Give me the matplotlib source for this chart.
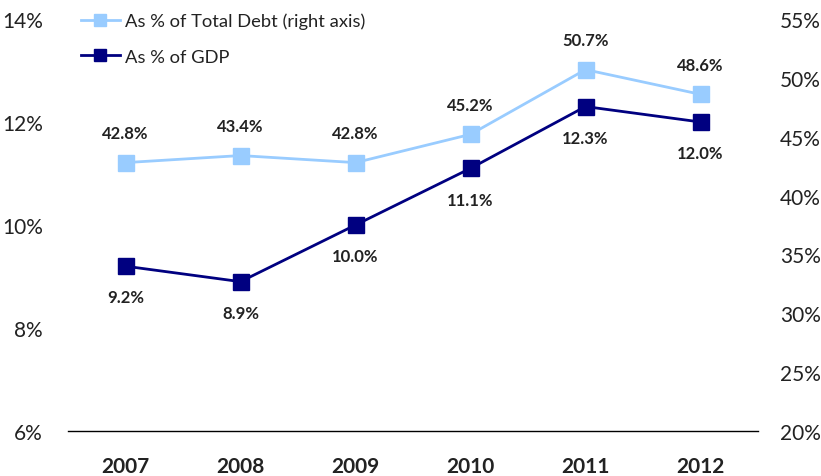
import matplotlib
matplotlib.use("Agg")
import matplotlib.pyplot as plt
from matplotlib.ticker import FuncFormatter

years = ["2007", "2008", "2009", "2010", "2011", "2012"]
pct_gdp = [9.2, 8.9, 10.0, 11.1, 12.3, 12.0]
pct_total_debt = [42.8, 43.4, 42.8, 45.2, 50.7, 48.6]

light = "#99CCFF"
navy = "#000080"

plt.rcParams["font.family"] = ["Lato", "DejaVu Sans"]

fig = plt.figure(figsize=(8.21, 4.77), dpi=100)
ax = fig.add_axes([68/821, 1 - 432/477, 690/821, 412/477])
ax2 = ax.twinx()

x = list(range(len(years)))

# left axis: % of GDP
l1, = ax.plot(x, pct_gdp, color=navy, lw=2, marker="s", ms=11,
              mfc=navy, mec=navy, label="As % of GDP", zorder=3)
ax.set_ylim(6, 14)
ax.set_yticks([6, 8, 10, 12, 14])
ax.yaxis.set_major_formatter(FuncFormatter(lambda v, p: "%d%%" % v))

# right axis: % of total debt
l2, = ax2.plot(x, pct_total_debt, color=light, lw=2, marker="s", ms=11,
               mfc=light, mec=light, label="As % of Total Debt (right axis)", zorder=3)
ax2.set_ylim(20, 55)
ax2.set_yticks(range(20, 60, 5))
ax2.yaxis.set_major_formatter(FuncFormatter(lambda v, p: "%d%%" % v))

ax.set_xlim(-0.5, 5.5)
ax.set_xticks(x)
ax.set_xticklabels(years, fontsize=14.5, fontweight="bold", color="#222222")

for a in (ax, ax2):
    for s in ("top", "left", "right", "bottom"):
        a.spines[s].set_visible(False)
    a.tick_params(length=0, labelsize=15, colors="#222222")
ax.spines["bottom"].set_visible(True)
ax.spines["bottom"].set_linewidth(1)
ax.tick_params(axis="x", pad=18)
ax.tick_params(axis="y", pad=18)
ax2.tick_params(axis="y", pad=16)

# value labels
for i, v in enumerate(pct_gdp):
    ax.annotate("%.1f%%" % v, (i, v), xytext=(0, -22.5), textcoords="offset points",
                ha="center", va="center", fontsize=12, fontweight="bold", color="#222222")
for i, v in enumerate(pct_total_debt):
    ax2.annotate("%.1f%%" % v, (i, v), xytext=(0, 21), textcoords="offset points",
                 ha="center", va="center", fontsize=12, fontweight="bold", color="#222222")

leg = ax.legend(handles=[l2, l1], loc="upper left", bbox_to_anchor=(-0.005, 1.055),
                frameon=False, fontsize=13.2, handlelength=2.1, markerscale=0.75,
                labelspacing=1.05, handletextpad=0.3)
for t in leg.get_texts():
    t.set_color("#222222")

fig.savefig("out.png", dpi=100)
